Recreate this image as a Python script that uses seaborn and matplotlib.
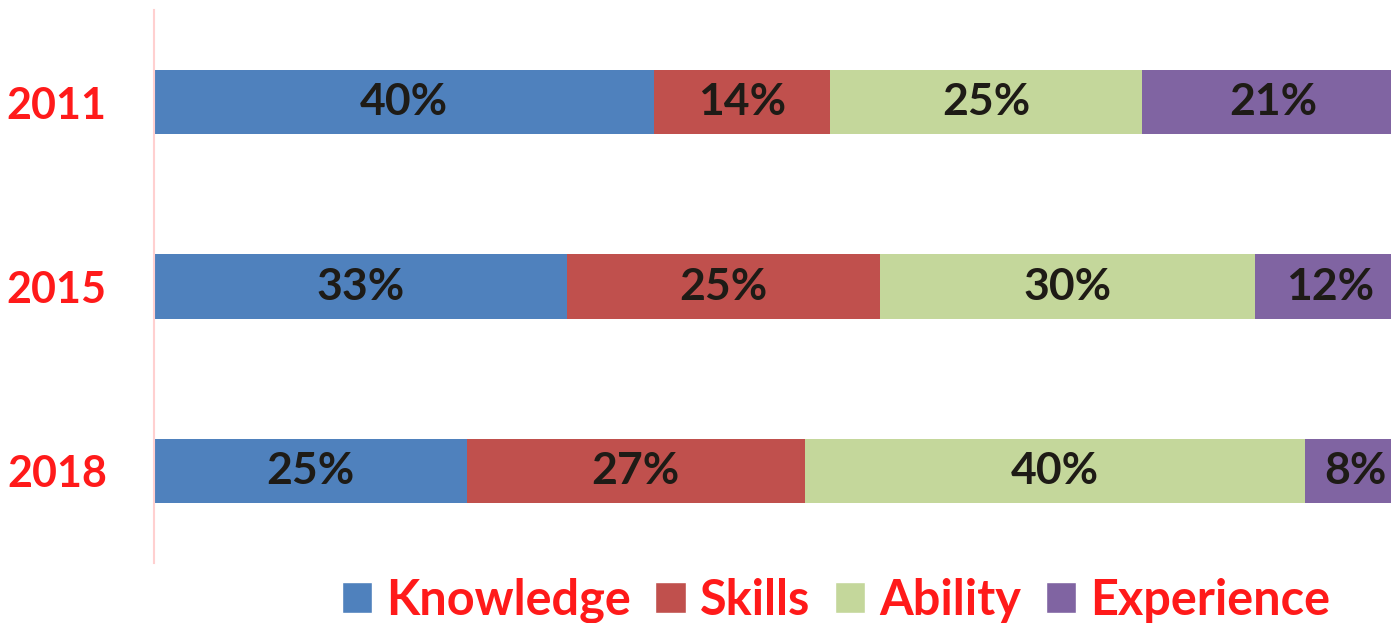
import matplotlib
matplotlib.use("Agg")
import matplotlib.pyplot as plt
import numpy as np
import pandas as pd
import seaborn as sns
from matplotlib.patches import Patch

years = ['2011', '2015', '2018']
knowledge = [40, 33, 25]
skills = [14, 25, 27]
ability = [25, 30, 40]
experience = [21, 12, 8]

series = ['Knowledge', 'Skills', 'Ability', 'Experience']
colors = ['#4F81BD', '#C0504D', '#C4D79B', '#8064A2']

df = pd.DataFrame({'year': years, 'Knowledge': knowledge, 'Skills': skills,
                   'Ability': ability, 'Experience': experience})

sns.set_style('white')
plt.rcParams['font.family'] = ['Lato', 'DejaVu Sans']

fig = plt.figure(figsize=(13.91, 6.23), dpi=100)
ax = fig.add_axes([154 / 1391, 60 / 623, 1251 / 1391, 553 / 623])

cum = df[series].cumsum(axis=1)
# draw cumulative bars from the longest to the shortest so they stack
for name, col in reversed(list(zip(series, colors))):
    sns.barplot(x=cum[name], y=df['year'], color=col, orient='h', width=0.35,
                saturation=1, ax=ax, linewidth=0)

for name in series:
    for i, (c, v) in enumerate(zip(cum[name], df[name])):
        ax.text(c - v / 2, i, f'{v}%', ha='center', va='center',
                fontsize=32, fontweight='bold', color='#1E1B16')

ax.set_xlim(0, 100)
ax.set_ylim(2.5, -0.5)
ax.set_xlabel('')
ax.set_ylabel('')
ax.set_xticks([])
for s in ['top', 'right', 'bottom']:
    ax.spines[s].set_visible(False)
ax.spines['left'].set_color('#FFD0D0')
ax.spines['left'].set_linewidth(1.5)
ax.tick_params(axis='y', length=0, pad=34)
for lab in ax.get_yticklabels():
    lab.set_color('#FF1A1A')
    lab.set_fontweight('bold')
    lab.set_fontsize(31)

handles = [Patch(facecolor=c, label=n) for n, c in zip(series, colors)]
leg = fig.legend(handles=handles, loc='center', bbox_to_anchor=(0.601, 0.036), ncol=4,
                 frameon=False, fontsize=35, handlelength=0.62, handleheight=0.62,
                 handletextpad=0.3, columnspacing=0.5, borderaxespad=0)
for t in leg.get_texts():
    t.set_color('#FF1A1A')
    t.set_fontweight('bold')

fig.savefig('out.png', dpi=100)
